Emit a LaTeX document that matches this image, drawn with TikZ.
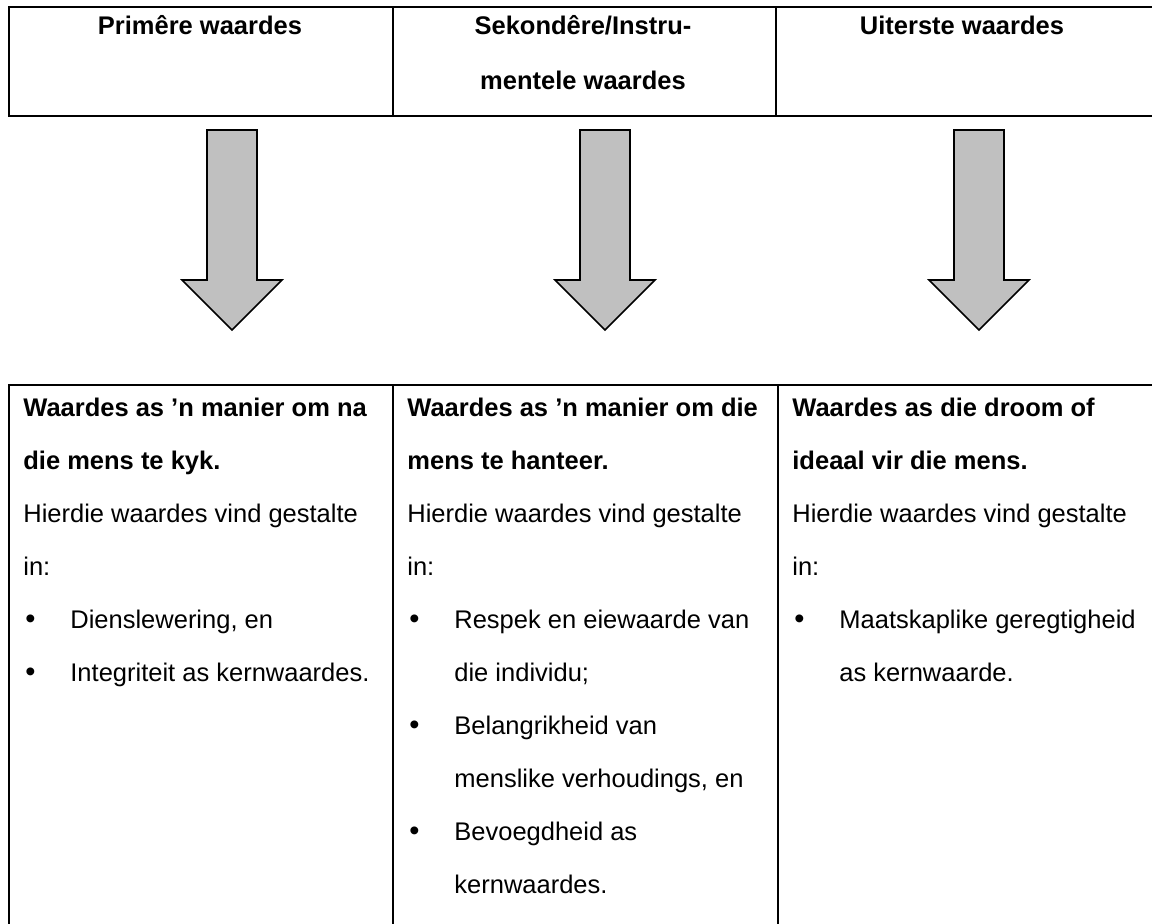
\documentclass[tikz,border=0pt]{standalone}
\usepackage{fontspec}
\setmainfont{Liberation Sans}
\definecolor{arrowgrey}{RGB}{192,192,192}
\newcommand{\bulitem}{\makebox[23.5pt][l]{\hspace{1pt}{\fontsize{14.5}{14.5}\selectfont\textbullet}}}
\newcommand{\bulcont}{\hspace*{23.5pt}}

\begin{document}
\begin{tikzpicture}[x=0.5pt,y=-0.5pt,
  every node/.style={font=\fontsize{12.75}{26.5}\selectfont},
  cellbox/.style={draw,line width=1pt,anchor=north west,inner sep=0pt},
  headtext/.style={anchor=north,align=center,inner sep=0pt,
                   font=\fontsize{12.75}{27.5}\selectfont\bfseries},
  celltext/.style={anchor=north west,align=left,inner sep=0pt},
  blockarrow/.style={draw=black,line width=0.8pt,fill=arrowgrey,line join=miter}]
  \useasboundingbox (0,0) rectangle (1152,923);

  %% Header row
  \node[cellbox,minimum width=192pt,minimum height=54.5pt] (top1) at (8,6) {};
  \node[cellbox,minimum width=191.5pt,minimum height=54.5pt] (top2) at (392,6) {};
  \node[cellbox,minimum width=200pt,minimum height=54.5pt] (top3) at (775,6) {};

  \node[headtext] (prim) at (200,15) {Primêre waardes};
  \node[headtext] (sek) at (583,15) {Sekondêre/Instru-\\mentele waardes};
  \node[headtext] (uit) at (962,16) {Uiterste waardes};

  %% Block arrows
  \foreach \ax in {232,605,979}
    \draw[blockarrow] ({\ax-25},130) -- ({\ax+25},130) -- ({\ax+25},280)
      -- ({\ax+50},280) -- (\ax,330) -- ({\ax-50},280) -- ({\ax-25},280) -- cycle;

  %% Lower row
  \node[cellbox,minimum width=192pt,minimum height=300pt] (low1) at (8,384) {};
  \node[cellbox,minimum width=192.5pt,minimum height=300pt] (low2) at (392,384) {};
  \node[cellbox,minimum width=200pt,minimum height=300pt] (low3) at (777,384) {};

  \node[celltext] (kyk) at (23,398) {%
    \textbf{Waardes as ’n manier om na}\\
    \textbf{die mens te kyk.}\\
    Hierdie waardes vind gestalte\\
    in:\\
    \bulitem Dienslewering, en\\
    \bulitem Integriteit as kernwaardes.};
  \node[celltext] (hanteer) at (407,398) {%
    \textbf{Waardes as ’n manier om die}\\
    \textbf{mens te hanteer.}\\
    Hierdie waardes vind gestalte\\
    in:\\
    \bulitem Respek en eiewaarde van\\
    \bulcont die individu;\\
    \bulitem Belangrikheid van\\
    \bulcont menslike verhoudings, en\\
    \bulitem Bevoegdheid as\\
    \bulcont kernwaardes.};
  \node[celltext] (droom) at (792,398) {%
    \textbf{Waardes as die droom of}\\
    \textbf{ideaal vir die mens.}\\
    Hierdie waardes vind gestalte\\
    in:\\
    \bulitem Maatskaplike geregtigheid\\
    \bulcont as kernwaarde.};
\end{tikzpicture}
\end{document}
